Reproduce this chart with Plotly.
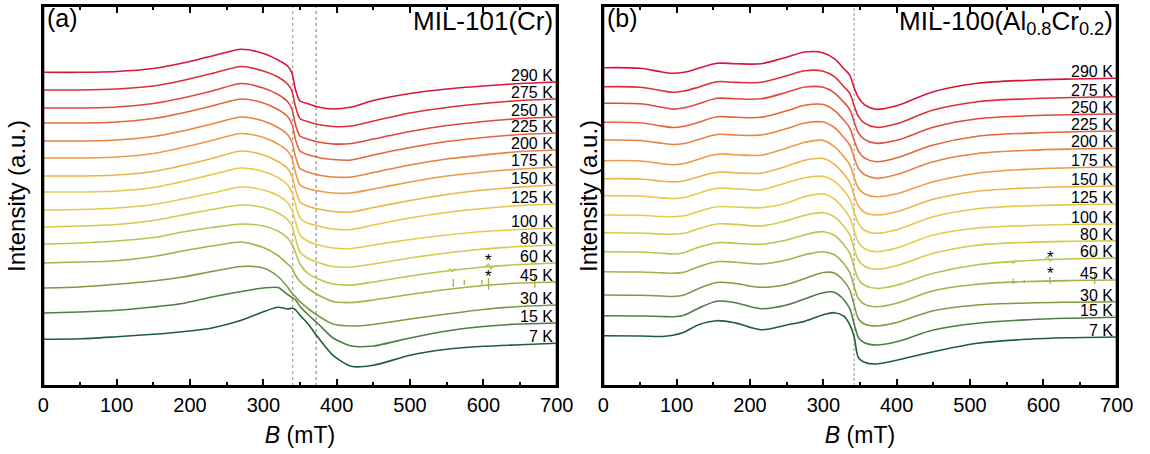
import plotly.graph_objects as go

# ---------------- data ----------------
TEMPS = ["290 K", "275 K", "250 K", "225 K", "200 K", "175 K", "150 K", "125 K",
         "100 K", "80 K", "60 K", "45 K", "30 K", "15 K", "7 K"]

COLORS = ["#d8163c", "#dc2f3a", "#e04a3a", "#e3663d", "#e88243", "#eb9c45", "#edb446",
          "#eac64a", "#e3cd4d", "#d3cb4c", "#bfc24a", "#a5b148", "#7f9a45", "#4f7e45", "#1f5e3d"]

# panel (a) MIL-101(Cr)
B_A = [0, 50, 100, 150, 190, 230, 270, 300, 320, 333, 339, 344, 350, 360, 375, 395, 420, 450, 500, 550, 600, 650, 700]
OFFSET_A = [317.7, 300, 282, 267, 249, 232, 214, 198, 180, 163, 146, 127, 102, 77, 50.7]
SIGNAL_A = [
    [0, 0, 0.8, 3.8, 9.3, 16.3, 23, 18.8, 12.3, 6.3, -0.7, -17.7, -28.7, -31.2, -34.7, -36.7, -34.7, -28.2, -21.2, -16.7, -13.7, -11.2, -9.7],
    [0, 0, 1, 4, 9.5, 16.5, 23.5, 19, 13, 6, -1, -17, -28.5, -31.5, -34.5, -36.5, -36, -31, -23, -17.5, -13.5, -10.5, -9],
    [0, 0, 1, 4.5, 10, 17, 24.5, 20, 13.5, 6.5, -1, -17, -28, -31, -34, -36, -35.5, -31, -23.5, -17.5, -13.5, -10.5, -9],
    [0, 0, 1, 4.5, 10, 17, 24, 20, 13.5, 6.5, -1, -17, -28, -31.5, -34.5, -36.5, -37, -32, -24.5, -18.5, -14.5, -11.5, -10],
    [0, 0, 1, 4.5, 10, 17, 24, 20, 13.5, 6.5, -1, -16, -27.5, -31, -34, -36, -36, -31.5, -24, -18, -14, -10.5, -9],
    [0, 0, 1, 4.5, 10.5, 17.5, 24.5, 20.5, 14, 7, -0.5, -15, -27, -30.5, -33, -35, -35, -31, -24, -18, -14, -11, -9],
    [0, 0, 1, 4.5, 10.5, 17.5, 25, 21, 14.5, 7.5, 0, -14, -26, -30, -33, -35.5, -36, -31.5, -24.5, -18.5, -14, -11, -9],
    [0, 0, 1, 4.5, 10.5, 17.5, 24, 20.5, 14.5, 7.5, 0, -13, -26, -31, -34, -37, -37.5, -33, -26, -20.5, -16.5, -13.5, -12],
    [0, 0.5, 2, 5.5, 11, 17, 23, 20, 14.5, 7.5, 0, -12, -25, -31, -35, -38, -38.5, -35, -29.5, -25, -21.5, -19.5, -18],
    [0, 1, 2.5, 6.5, 12, 17.5, 22, 19.5, 14, 7.5, 1, -12, -25, -31, -35.5, -39.5, -40, -37, -31, -26, -22, -19.5, -18],
    [0, 1, 3, 6.5, 12, 16.5, 20, 18, 13, 6, 0, -9, -20, -29, -35, -40, -41, -38, -32, -27, -23, -20.5, -19],
    [0, 1, 2.3, 6.5, 12, 17, 21, 15.5, 7.5, -1, -5, -12.5, -18.5, -25, -32, -38.5, -39.5, -37, -31.5, -26.5, -22.5, -20, -19],
    [0, 1, 3.7, 7, 11, 16.5, 21.5, 20, 11.5, 1, -5, -9, -13.7, -20, -28, -36, -38, -36.5, -31, -26, -21.5, -18.5, -17],
    [0, 1, 2.7, 6, 9.5, 16, 21.5, 25, 25.5, 18.5, 15.5, 13, 6.5, -1, -11, -25, -33, -33, -25, -18, -13.5, -11, -10],
    [0, 0.5, 2.6, 5, 7.6, 11.3, 19, 27.5, 32, 30.3, 31, 29.5, 24, 16.3, 1.5, -16, -27, -26, -16, -10, -7, -5.5, -4],
]
REF_LINES_A = [340, 372]

# panel (b) MIL-100(Al0.8Cr0.2)
B_B = [0, 50, 80, 95, 110, 130, 155, 180, 215, 250, 275, 300, 315, 328, 336, 342, 348, 356, 372, 400, 450, 510, 580, 640, 700]
OFFSET_B = [322.3, 303.3, 286.7, 267.7, 250, 229.3, 211.3, 194.3, 175, 157.3, 138.3, 118.3, 95, 74.3, 54.3]
SIGNAL_B = [
    [0, -0.6, -4.3, -5.6, -4.5, -0.6, 4.4, 4, 4, 10.5, 15.7, 14.8, 9, -1, -7.5, -20, -30, -37, -41.6, -38, -24, -15.6, -12.5, -11.3, -10.6],
    [0, -0.5, -4, -5.6, -4.3, -0.5, 5, 4.3, 4.5, 11, 16, 15.5, 10, 0, -6.6, -19, -30, -36.5, -40.6, -37, -23.3, -15, -12, -10.8, -10],
    [0, -0.5, -4, -5.8, -4.5, -0.5, 5, 4.5, 4.5, 11, 16.3, 16, 10.5, 1, -6, -18.5, -29.5, -36, -40, -37, -24, -15.5, -12.5, -11.3, -10.7],
    [0, -0.5, -3.8, -5.2, -4, 0, 5.5, 5, 5, 11.5, 17, 17.8, 12, 2, -5.5, -18, -29, -35.5, -39.4, -35.5, -22.7, -14, -10.8, -9.5, -8.7],
    [0, -0.5, -3.3, -4.5, -3.5, 0.5, 5.5, 5, 5, 11.5, 17, 18, 12.5, 2.5, -5, -17.5, -28.5, -34.5, -38.3, -34.5, -21.7, -13.5, -10.3, -9, -8.3],
    [0, -0.3, -3, -4, -2.8, 1.5, 6.5, 6, 5.5, 12.5, 18.5, 20.3, 14, 4, -4, -17, -27.5, -33, -36, -33, -21, -12.5, -8.5, -7, -6],
    [0, -0.3, -2.5, -3.2, -2.3, 2, 6.5, 6, 5.5, 12.5, 18.5, 20.2, 14.5, 4.5, -3.5, -16.5, -27.5, -33.5, -36.3, -33, -20.6, -12.5, -9.3, -8, -7.3],
    [0, -0.3, -2.2, -2.8, -1.8, 2.5, 7.5, 7, 6, 13, 18, 19.3, 14.5, 5, -3, -16.5, -28, -34.5, -37.6, -34, -21, -13, -10, -9, -8.3],
    [0, -0.3, -1.5, -1.7, -0.8, 3.5, 8.3, 8, 7.3, 12, 18.5, 21, 16, 6, -2.5, -16, -27.5, -33.5, -36.7, -33, -20, -13, -10.5, -9.5, -9],
    [0, -0.3, -1.3, -1.5, -0.5, 4, 8.7, 8.3, 6.7, 12, 17.5, 20, 16, 6.5, -2, -16, -27.5, -33.5, -36.6, -33, -20.6, -12.5, -9.5, -8.5, -8],
    [0, -0.3, -1.5, -2.3, -1, 4.5, 9, 8.5, 7.4, 11.7, 17, 20, 16.5, 7, -1.5, -15.5, -27.5, -33.5, -36.6, -33.5, -21.6, -13, -8.8, -7, -6.3],
    [0, -0.3, -1.2, -1.5, -0.5, 5, 10, 9.5, 7.7, 11.7, 17, 20, 17, 8, -1, -15, -27, -32.5, -35, -31.5, -19, -12.5, -9.8, -8.8, -8.3],
    [0, -0.3, -1, -1.5, 0, 6.5, 12.5, 11.5, 7.7, 10.5, 16.5, 22.5, 22, 14, 5, -10, -24, -29, -31, -27.5, -15.7, -10, -8, -7.2, -6.7],
    [0, -0.3, -0.8, -1, 0.5, 7.5, 14.5, 13, 7, 10.7, 17, 23, 23.5, 16, 7, -8, -22, -27, -29.3, -26, -14.3, -7.5, -4, -2.5, -1.6],
    [0, -0.3, -0.8, 0.5, 3.5, 11, 15, 12.8, 6, 10.7, 14.5, 21, 23, 19.5, 11, -1, -22, -26.5, -28.3, -24.5, -16, -7.6, -3.5, -2, -1.3],
]
REF_LINES_B = [342]

# spurious spikes (marked *) on the 60 K and 45 K traces: (B, low, high)
SPIKES_45_A = [(559, 103, 111), (574, 105, 110), (598, 105, 110), (607, 100, 112), (670, 102, 114)]
NOTCH_60_A = [([553, 558, 562], [121.5, 118.5, 121.5]),
              ([603, 607, 610, 614], [124, 125.5, 121, 124]),
              ([665, 669, 673], [126, 128.5, 126])]
SPIKES_45_B = [(559, 106, 111.5), (574, 107, 110), (609, 106, 113), (670, 106, 117)]
NOTCH_60_B = [([555, 559, 563], [129, 127, 129]),
              ([602, 606, 609, 613], [131.3, 133, 129, 131.3]),
              ([666, 670, 674], [134.4, 137, 134.4])]
STAR_A = [(607, 134), (607, 117.3)]
STAR_B = [(610, 136.7), (610, 120.7)]

FONT = "Liberation Sans, Arial, sans-serif"

fig = go.Figure()


def add_panel(B, offsets, signals, xa, ya, spikes, notches, smooth):
    for i, t in enumerate(TEMPS):
        y = [offsets[i] + s for s in signals[i]]
        fig.add_trace(go.Scatter(
            x=B, y=y, mode="lines", xaxis=xa, yaxis=ya, name=t,
            line=dict(color=COLORS[i], width=1.6, shape="spline", smoothing=smooth),
            showlegend=False, hoverinfo="skip"))
        fig.add_annotation(
            x=1, xref=xa + " domain", y=y[-1], yref=ya, text=t,
            xanchor="right", yanchor="middle", xshift=-2, yshift=6.5,
            showarrow=False, font=dict(family=FONT, size=16, color="black"))
    i45 = TEMPS.index("45 K")
    i60 = TEMPS.index("60 K")
    for b, lo, hi in spikes:
        fig.add_trace(go.Scatter(x=[b, b], y=[lo, hi], mode="lines", xaxis=xa, yaxis=ya,
                                 line=dict(color=COLORS[i45], width=1.3),
                                 showlegend=False, hoverinfo="skip"))
    for xs, ys in notches:
        fig.add_trace(go.Scatter(x=xs, y=ys, mode="lines", xaxis=xa, yaxis=ya,
                                 line=dict(color=COLORS[i60], width=1.3),
                                 showlegend=False, hoverinfo="skip"))


add_panel(B_A, OFFSET_A, SIGNAL_A, "x", "y", SPIKES_45_A, NOTCH_60_A, 0.7)
add_panel(B_B, OFFSET_B, SIGNAL_B, "x2", "y2", SPIKES_45_B, NOTCH_60_B, 0.95)

for xv, ya, xa, yv in [(s[0], "y", "x", s[1]) for s in STAR_A] + [(s[0], "y2", "x2", s[1]) for s in STAR_B]:
    fig.add_annotation(x=xv, y=yv, xref=xa, yref=ya, text="*", showarrow=False,
                       yshift=-4, font=dict(family=FONT, size=17, color="black"))

# reference dashed lines and frames
shapes = []
styles_a = [dict(color="#aaaaaa", width=1.3, dash="dot"), dict(color="#777777", width=1, dash="3px,3px")]
for v, st in zip(REF_LINES_A, styles_a):
    shapes.append(dict(type="line", xref="x", yref="y domain", x0=v, x1=v, y0=0, y1=1, line=st, layer="below"))
for v in REF_LINES_B:
    shapes.append(dict(type="line", xref="x2", yref="y2 domain", x0=v, x1=v, y0=0, y1=1,
                       line=dict(color="#999999", width=1, dash="3px,2px"), layer="below"))
for xa, ya in [("x", "y"), ("x2", "y2")]:
    shapes.append(dict(type="rect", xref=xa + " domain", yref=ya + " domain", x0=0, x1=1, y0=0, y1=1,
                       line=dict(color="black", width=2), fillcolor="rgba(0,0,0,0)", layer="above"))

xaxis_common = dict(
    range=[0, 700], tick0=0, dtick=100, ticks="inside", ticklen=7, tickwidth=1.5, tickcolor="black",
    showline=True, linewidth=2, linecolor="black", mirror="ticks", showgrid=False, zeroline=False,
    automargin=False,
    minor=dict(ticks="inside", dtick=50, ticklen=4, tickwidth=1.5, tickcolor="black", showgrid=False),
    tickfont=dict(family=FONT, size=20, color="black"),
    title=dict(text="<i>B</i> (mT)", font=dict(family=FONT, size=23, color="black"), standoff=12),
)
yaxis_common = dict(range=[4, 384], showline=True, linewidth=2, linecolor="black", mirror=True,
                    showticklabels=False, ticks="", showgrid=False, zeroline=False, automargin=False)

L_A = [43.3 / 1150, 556.7 / 1150]
L_B = [603.3 / 1150, 1116.7 / 1150]

fig.update_layout(
    template="none",
    width=1150, height=454, autosize=False,
    margin=dict(l=0, r=0, t=6, b=68, pad=0),
    paper_bgcolor="white", plot_bgcolor="white",
    font=dict(family=FONT, color="black"),
    xaxis=dict(domain=L_A, anchor="y", **xaxis_common),
    yaxis=dict(domain=[0, 1], anchor="x", **yaxis_common),
    xaxis2=dict(domain=L_B, anchor="y2", **xaxis_common),
    yaxis2=dict(domain=[0, 1], anchor="x2", **yaxis_common),
    shapes=shapes,
)

# y titles
for xp in [16 / 1150, 588 / 1150]:
    fig.add_annotation(x=xp, y=0.5, xref="paper", yref="paper", text="Intensity (a.u.)",
                       textangle=-90, showarrow=False, xanchor="center", yanchor="middle",
                       font=dict(family=FONT, size=24, color="black"))

# panel labels and sample names
for xa, ya, lab, name in [("x", "y", "(a)", "MIL-101(Cr)"),
                          ("x2", "y2", "(b)", "MIL-100(Al<sub>0.8</sub>Cr<sub>0.2</sub>)")]:
    fig.add_annotation(x=0, y=1, xref=xa + " domain", yref=ya + " domain", text=lab,
                       xanchor="left", yanchor="top", xshift=2, yshift=4, showarrow=False,
                       font=dict(family=FONT, size=25, color="black"))
    fig.add_annotation(x=1, y=1, xref=xa + " domain", yref=ya + " domain", text=name,
                       xanchor="right", yanchor="top", xshift=-2, yshift=2, showarrow=False,
                       font=dict(family=FONT, size=26, color="black"))

fig.write_html("out.html", config={"displayModeBar": False},
               post_script="document.body.style.margin='0px';")
